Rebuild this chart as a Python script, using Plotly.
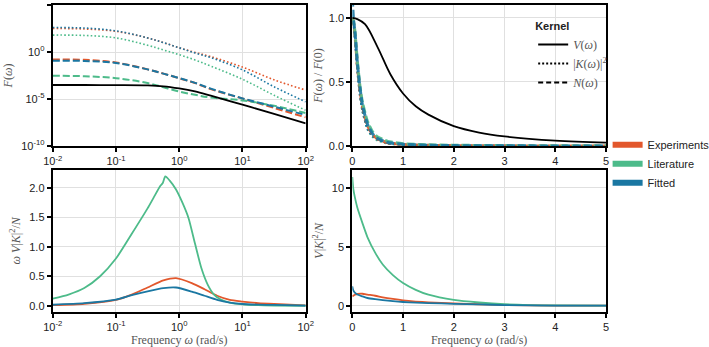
import plotly.graph_objects as go

# ---- data ----
SOURCES = ["Experiments", "Literature", "Fitted"]
COLORS = {"Experiments": "#E2572C", "Literature": "#4DBB8A", "Fitted": "#1A77A2"}

# top-left: F(w) on log-log axes
freq_log = [0.01, 0.0316, 0.1, 0.316, 0.562, 1.0, 1.78, 3.16, 10, 31.6, 100]
V_abs = [3.1e-4, 3.1e-4, 3.0e-4, 2.75e-4, 2.24e-4, 1.32e-4, 6.3e-5, 2.24e-5, 2.5e-6, 2.6e-7, 2.5e-8]
K2_abs = {
    "Experiments": [316, 282, 158, 31.6, 10, 2.8, 0.9, 0.32, 0.025, 1.1e-3, 8.9e-5],
    "Literature": [63, 57.5, 31.6, 5.2, 1.66, 0.52, 0.141, 0.0316, 1.26e-3, 2.5e-5, 6.3e-7],
    "Fitted": [398, 355, 178, 31.6, 10, 2.8, 0.79, 0.25, 0.0126, 2.0e-4, 5.0e-6],
}
N_abs = {
    "Experiments": [0.158, 0.148, 0.076, 0.0141, 5.0e-3, 1.6e-3, 5.0e-4, 1.12e-4, 1.12e-5, 1.12e-6, 1.12e-7],
    "Literature": [2.95e-3, 2.63e-3, 1.66e-3, 5.0e-4, 1.78e-4, 6.3e-5, 2.8e-5, 1.41e-5, 7.1e-6, 1.9e-6, 3.2e-7],
    "Fitted": [0.12, 0.112, 0.068, 0.0141, 5.0e-3, 1.66e-3, 5.2e-4, 1.26e-4, 1.17e-5, 1.5e-6, 2.0e-7],
}

# top-right: F(w)/F(0) on linear axes
freq_lin_v = [0, 0.1, 0.25, 0.5, 0.75, 1, 1.25, 1.5, 2, 2.5, 3, 4, 5]
V_norm = [1.0, 0.99, 0.95, 0.77, 0.56, 0.41, 0.31, 0.245, 0.155, 0.105, 0.075, 0.042, 0.026]
freq_lin = [0, 0.025, 0.05, 0.1, 0.15, 0.2, 0.3, 0.4, 0.5, 0.7, 1.0, 1.5, 2, 3, 4, 5]
K2_norm = {
    "Experiments": [1.0, 0.95, 0.85, 0.6, 0.41, 0.28, 0.14, 0.08, 0.05, 0.024, 0.011, 0.005, 0.003, 0.001, 0.0006, 0.0004],
    "Literature": [1.0, 0.96, 0.86, 0.6, 0.4, 0.27, 0.13, 0.07, 0.042, 0.018, 0.007, 0.002, 0.001, 0.0003, 0.0001, 0.0],
    "Fitted": [1.0, 0.94, 0.84, 0.58, 0.39, 0.27, 0.13, 0.075, 0.047, 0.022, 0.01, 0.004, 0.002, 0.0008, 0.0004, 0.0002],
}
N_norm = {
    "Experiments": [1.0, 0.96, 0.88, 0.63, 0.44, 0.31, 0.16, 0.09, 0.055, 0.025, 0.012, 0.005, 0.003, 0.0012, 0.0006, 0.0003],
    "Literature": [1.0, 0.97, 0.9, 0.66, 0.47, 0.34, 0.19, 0.11, 0.07, 0.036, 0.018, 0.009, 0.006, 0.003, 0.002, 0.0015],
    "Fitted": [1.15, 0.98, 0.9, 0.65, 0.46, 0.32, 0.17, 0.095, 0.058, 0.027, 0.013, 0.006, 0.003, 0.0014, 0.0007, 0.0004],
}

# bottom-left: w V|K|^2/N on log x
freq_lit = [0.01, 0.0178, 0.0316, 0.0562, 0.1, 0.178, 0.316, 0.398, 0.501, 0.55, 0.603, 0.708, 0.891,
            1.12, 1.41, 1.78, 2.24, 2.82, 3.55, 4.47, 6.31, 10, 17.8, 31.6, 100]
freq_other = [0.01, 0.0316, 0.1, 0.178, 0.316, 0.562, 0.891, 1.58, 2.51, 3.98, 6.31, 10, 17.8, 31.6, 100]
wVK2N = {
    "Experiments": (freq_other, [0.01, 0.035, 0.1, 0.19, 0.31, 0.43, 0.47, 0.385, 0.28, 0.17, 0.1, 0.072, 0.045, 0.03, 0.008]),
    "Literature": (freq_lit, [0.12, 0.19, 0.3, 0.5, 0.8, 1.22, 1.65, 1.84, 2.03, 2.08, 2.19, 2.12, 1.97, 1.75, 1.48,
                              1.05, 0.64, 0.36, 0.19, 0.11, 0.055, 0.025, 0.01, 0.005, 0.001]),
    "Fitted": (freq_other, [0.018, 0.045, 0.105, 0.18, 0.245, 0.3, 0.31, 0.24, 0.17, 0.1, 0.055, 0.03, 0.02, 0.015, 0.004]),
}

# bottom-right: V|K|^2/N on linear x
freq_lin2 = [0, 0.02, 0.05, 0.1, 0.2, 0.3, 0.45, 0.6, 0.8, 1.0, 1.25, 1.5, 2, 2.5, 3, 4, 5]
VK2N = {
    "Experiments": [0.8, 0.85, 0.93, 1.0, 1.02, 0.95, 0.85, 0.72, 0.58, 0.46, 0.36, 0.29, 0.2, 0.13, 0.06, 0.02, 0.01],
    "Literature": [10.9, 9.9, 9.2, 8.3, 7.0, 5.8, 4.5, 3.5, 2.6, 1.93, 1.35, 0.94, 0.5, 0.28, 0.14, 0.03, 0.01],
    "Fitted": [1.65, 1.3, 1.12, 0.95, 0.8, 0.66, 0.56, 0.48, 0.39, 0.32, 0.27, 0.23, 0.17, 0.12, 0.06, 0.02, 0.01],
}

log_ticks = [0.01, 0.1, 1, 10, 100]
log_ticktext = ["10<sup>-2</sup>", "10<sup>-1</sup>", "10<sup>0</sup>", "10<sup>1</sup>", "10<sup>2</sup>"]
F_ticks = [1e-10, 1e-5, 1, 1e5]
F_ticktext = ["10<sup>-10</sup>", "10<sup>-5</sup>", "10<sup>0</sup>", "10<sup>5</sup>"]

W, H = 709, 347
SERIF = "Liberation Serif"
SANS = "Liberation Sans"

fig = go.Figure()

DOT_TL = "1.6px,2.2px"
DASH_TL = "7px,3px"

# top-left
for s in SOURCES:
    fig.add_trace(go.Scatter(x=freq_log, y=K2_abs[s], mode="lines", line_shape="spline", showlegend=False,
                             line=dict(color=COLORS[s], width=1.6, dash=DOT_TL), xaxis="x", yaxis="y"))
for s in SOURCES:
    fig.add_trace(go.Scatter(x=freq_log, y=N_abs[s], mode="lines", line_shape="spline", showlegend=False,
                             line=dict(color=COLORS[s], width=2, dash=DASH_TL), xaxis="x", yaxis="y"))
fig.add_trace(go.Scatter(x=freq_log, y=V_abs, mode="lines", line_shape="spline", showlegend=False,
                         line=dict(color="black", width=1.8), xaxis="x", yaxis="y"))

# top-right
for s in SOURCES:
    fig.add_trace(go.Scatter(x=freq_lin, y=K2_norm[s], mode="lines", line_shape="spline",
                             line_smoothing=0.5, showlegend=False,
                             line=dict(color=COLORS[s], width=2, dash="2px,2.5px"), xaxis="x2", yaxis="y2"))
for s in SOURCES:
    fig.add_trace(go.Scatter(x=freq_lin, y=N_norm[s], mode="lines", line_shape="spline",
                             line_smoothing=0.5, showlegend=False, opacity=0.9,
                             line=dict(color=COLORS[s], width=3, dash="8px,3px"), xaxis="x2", yaxis="y2"))
fig.add_trace(go.Scatter(x=freq_lin_v, y=V_norm, mode="lines", line_shape="spline", showlegend=False,
                         line=dict(color="black", width=1.8), xaxis="x2", yaxis="y2"))

# bottom-left
for s in SOURCES:
    xs, ys = wVK2N[s]
    fig.add_trace(go.Scatter(x=xs, y=ys, mode="lines", line_shape="spline", line_smoothing=0.6,
                             showlegend=False, line=dict(color=COLORS[s], width=1.8),
                             xaxis="x3", yaxis="y3"))

# bottom-right
for s in SOURCES:
    fig.add_trace(go.Scatter(x=freq_lin2, y=VK2N[s], mode="lines", line_shape="spline", line_smoothing=0.6,
                             showlegend=False, line=dict(color=COLORS[s], width=1.8),
                             xaxis="x4", yaxis="y4"))

# legend entries: kernel line styles
kernel_names = ["<i>V</i>(<i>ω</i>)", "|<i>K</i>(<i>ω</i>)|<sup>2</sup>", "<i>N</i>(<i>ω</i>)"]
kernel_dash = ["solid", "2px,2px", "5px,3px"]
for name, dash in zip(kernel_names, kernel_dash):
    fig.add_trace(go.Scatter(x=[None], y=[None], mode="lines", name=name, legend="legend",
                             line=dict(color="black", width=2, dash=dash), xaxis="x2", yaxis="y2"))
# legend entries: data sources
for s in SOURCES:
    fig.add_trace(go.Scatter(x=[None], y=[None], mode="lines", name=s, legend="legend2",
                             line=dict(color=COLORS[s], width=6), xaxis="x2", yaxis="y2"))

# domains, in pixels of the reference
def px_x(a, b):
    return [a / W, b / W]

def px_y(top, bottom):
    return [1 - bottom / H, 1 - top / H]

axis_style = dict(
    showline=True, linecolor="black", linewidth=2, mirror=True,
    ticks="outside", ticklen=4, tickwidth=1.5, tickcolor="black",
    showgrid=True, gridcolor="#e0e0e0", gridwidth=1.3, zeroline=False,
    automargin=False,
    tickfont=dict(family=SANS, size=11, color="#222"),
    title_font=dict(family=SERIF, size=12, color="#555"),
)

xl, xr = px_x(52.7, 305.7), px_x(352.3, 606)
yt, yb = px_y(5, 146), px_y(170, 311.7)

fig.update_layout(
    width=W, height=H,
    margin=dict(l=0, r=0, t=0, b=0, autoexpand=False),
    paper_bgcolor="white", plot_bgcolor="white",
    xaxis=dict(axis_style, type="log", range=[-2, 2], domain=xl, anchor="y",
               tickvals=log_ticks, ticktext=log_ticktext),
    yaxis=dict(axis_style, type="log", range=[-10, 5], domain=yt, anchor="x",
               tickvals=F_ticks, ticktext=F_ticktext,
               title=dict(text="<i>F</i>(<i>ω</i>)", standoff=6)),
    xaxis2=dict(axis_style, range=[0, 5], domain=xr, anchor="y2", dtick=1),
    yaxis2=dict(axis_style, range=[0, 1.1], domain=yt, anchor="x2",
                tickvals=[0, 0.5, 1.0], tickformat=".1f",
                title=dict(text="<i>F</i>(<i>ω</i>) / <i>F</i>(0)", standoff=4)),
    xaxis3=dict(axis_style, type="log", range=[-2, 2], domain=xl, anchor="y3",
                tickvals=log_ticks, ticktext=log_ticktext,
                title=dict(text="Frequency <i>ω</i> (rad/s)", standoff=2)),
    yaxis3=dict(axis_style, range=[-0.1, 2.3], domain=yb, anchor="x3",
                tickvals=[0, 0.5, 1.0, 1.5, 2.0], tickformat=".1f",
                title=dict(text="<i>ω</i> <i>V</i>|<i>K</i>|<sup>2</sup>/<i>N</i>", standoff=6)),
    xaxis4=dict(axis_style, range=[0, 5], domain=xr, anchor="y4", dtick=1,
                title=dict(text="Frequency <i>ω</i> (rad/s)", standoff=2)),
    yaxis4=dict(axis_style, range=[-0.5, 11.5], domain=yb, anchor="x4",
                tickvals=[0, 5, 10],
                title=dict(text="<i>V</i>|<i>K</i>|<sup>2</sup>/<i>N</i>", standoff=6)),
    legend=dict(
        x=0.752, y=0.955, xanchor="left", yanchor="top",
        bgcolor="rgba(0,0,0,0)",
        title=dict(text="<b>Kernel</b>", font=dict(family=SANS, size=11, color="#222")),
        font=dict(family=SERIF, size=12, color="#555"),
        tracegroupgap=0,
    ),
    legend2=dict(
        x=0.857, y=0.625, xanchor="left", yanchor="top",
        bgcolor="rgba(0,0,0,0)",
        font=dict(family=SANS, size=11, color="#222"),
        tracegroupgap=0,
    ),
)

# the page's default body margin would shift the figure by 8px
fig.write_html("out.html", config={"displayModeBar": False},
               post_script="document.body.style.margin = '0px';")
